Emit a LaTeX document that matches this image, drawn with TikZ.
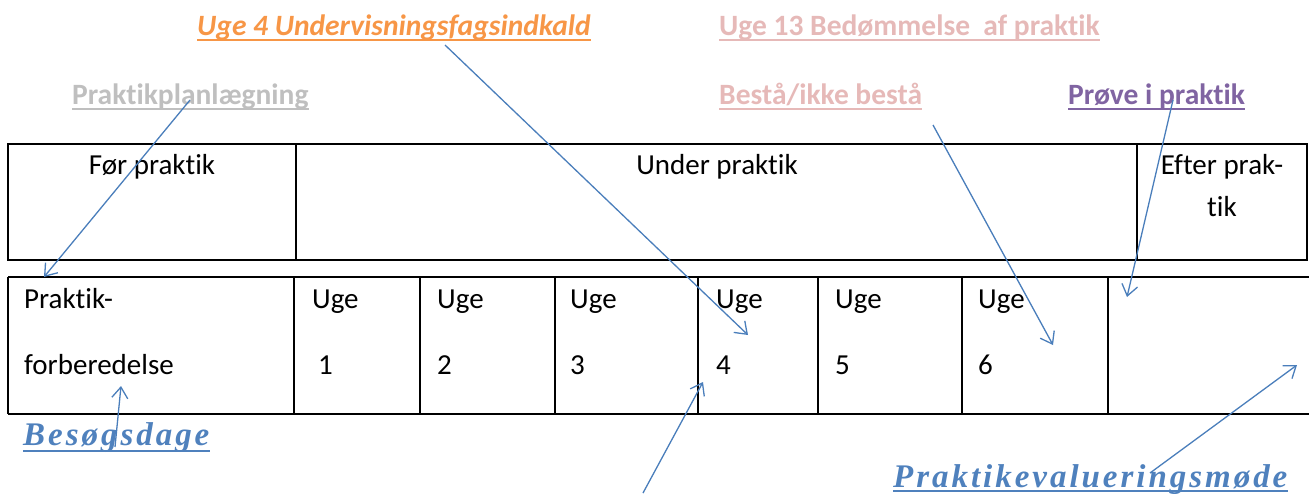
\documentclass[tikz,border=0pt]{standalone}
\usepackage{fontspec}
\setmainfont{Carlito}[Ligatures=NoCommon]
\newfontfamily\spacedserif[LetterSpace=9]{Liberation Serif}
\usetikzlibrary{arrows.meta}
\definecolor{lblorange}{HTML}{F79646}
\definecolor{lblpink}{HTML}{E6B9B8}
\definecolor{lblgray}{HTML}{BFBFBF}
\definecolor{lblpurple}{HTML}{8064A2}
\definecolor{lblblue}{HTML}{4F81BD}
\definecolor{arrblue}{HTML}{4A7EBB}
\begin{document}
\begin{tikzpicture}[x=1pt,y=-1pt,
  grid/.style={line width=2pt,black},
  celltext/.style={inner sep=0pt,anchor=base west,font=\fontsize{29}{34}\selectfont},
  cellmid/.style={inner sep=0pt,anchor=base,font=\fontsize{29}{34}\selectfont},
  toplbl/.style={inner sep=0pt,anchor=base west,font=\fontsize{29.5}{34}\selectfont\bfseries},
  bluelbl/.style={inner sep=0pt,anchor=base west,text=lblblue,font=\fontsize{33}{38}\selectfont\spacedserif\bfseries\itshape},
  conn/.style={arrblue,line width=1.3pt,-{Straight Barb[length=11pt,width=16pt,line width=1.3pt]}}
]
\useasboundingbox (0,0) rectangle (1309,493);
% top table
\draw[grid] (8,144) rectangle (1307,260);
\draw[grid] (296,144) -- (296,260);
\draw[grid] (1137,144) -- (1137,260);
% bottom table
\draw[grid] (8,277) -- (1309,277);
\draw[grid] (8,414) -- (1309,414);
\foreach \x in {8,294,420,555,698,818,962,1108} \draw[grid] (\x,277) -- (\x,414);
% top table texts
\node[cellmid] (foer) at (152,174) {Før praktik};
\node[cellmid] (under) at (717,174) {Under praktik};
\node[cellmid] (efter1) at (1222,174) {Efter prak-};
\node[cellmid] (efter2) at (1222,216) {tik};
% bottom table texts
\node[celltext] (prak1) at (24,308) {Praktik-};
\node[celltext] (prak2) at (24,374) {forberedelse};
\node[celltext] (u1) at (312,308) {Uge};
\node[celltext] (n1) at (318,374) {1};
\node[celltext] (u2) at (437,308) {Uge};
\node[celltext] (n2) at (437,374) {2};
\node[celltext] (u3) at (570,308) {Uge};
\node[celltext] (n3) at (570,374) {3};
\node[celltext] (u4) at (716,308) {Uge};
\node[celltext] (n4) at (716,374) {4};
\node[celltext] (u5) at (835,308) {Uge};
\node[celltext] (n5) at (835,374) {5};
\node[celltext] (u6) at (978,308) {Uge};
\node[celltext] (n6) at (978,374) {6};
% labels
\node[toplbl,text=lblorange,font=\fontsize{29.5}{34}\selectfont\bfseries\itshape] (l1) at (197,35) {Uge 4 Undervisningsfagsindkald};
\node[toplbl,text=lblpink] (l2) at (719,35) {Uge 13 Bedømmelse\ \ af praktik};
\node[toplbl,text=lblgray] (l3) at (72,104) {Praktikplanlægning};
\node[toplbl,text=lblpink] (l4) at (719,104) {Bestå/ikke bestå};
\node[toplbl,text=lblpurple] (l5) at (1068,104) {Prøve i praktik};
\node[bluelbl] (l6) at (23,445) {Besøgsdage};
\node[bluelbl] (l7) at (893,487) {Praktikevalueringsmøde};
% underlines
\draw[lblorange,line width=2pt] ([yshift=-5pt]l1.base west) -- ([yshift=-5pt]l1.base east);
\draw[lblpink,line width=2pt] ([yshift=-5pt]l2.base west) -- ([yshift=-5pt]l2.base east);
\draw[lblgray,line width=2pt] ([yshift=-5pt]l3.base west) -- ([yshift=-5pt]l3.base east);
\draw[lblpink,line width=2pt] ([yshift=-5pt]l4.base west) -- ([yshift=-5pt]l4.base east);
\draw[lblpurple,line width=2pt] ([yshift=-5pt]l5.base west) -- ([yshift=-5pt]l5.base east);
\draw[lblblue,line width=2pt] ([yshift=-6pt]l6.base west) -- ([yshift=-6pt]l6.base east);
\draw[lblblue,line width=2pt] ([yshift=-4pt]l7.base west) -- ([yshift=-4pt]l7.base east);
% connector end points
\coordinate (s1) at (190,100);
\coordinate (e1) at (44,277);
\coordinate (s2) at (445,45);
\coordinate (e2) at (748,335);
\coordinate (s3) at (933,125);
\coordinate (e3) at (1053,345);
\coordinate (s4) at (1173,100);
\coordinate (e4) at (1127,297);
\coordinate (s5) at (115,447);
\coordinate (e5) at (121,386);
\coordinate (s6) at (643,493);
\coordinate (e6) at (703,382);
\coordinate (s7) at (1150,473);
\coordinate (e7) at (1297,365);
\draw[conn] (s1) -- (e1);
\draw[conn] (s2) -- (e2);
\draw[conn] (s3) -- (e3);
\draw[conn] (s4) -- (e4);
\draw[conn] (s5) -- (e5);
\draw[conn] (s6) -- (e6);
\draw[conn] (s7) -- (e7);
\end{tikzpicture}
\end{document}
